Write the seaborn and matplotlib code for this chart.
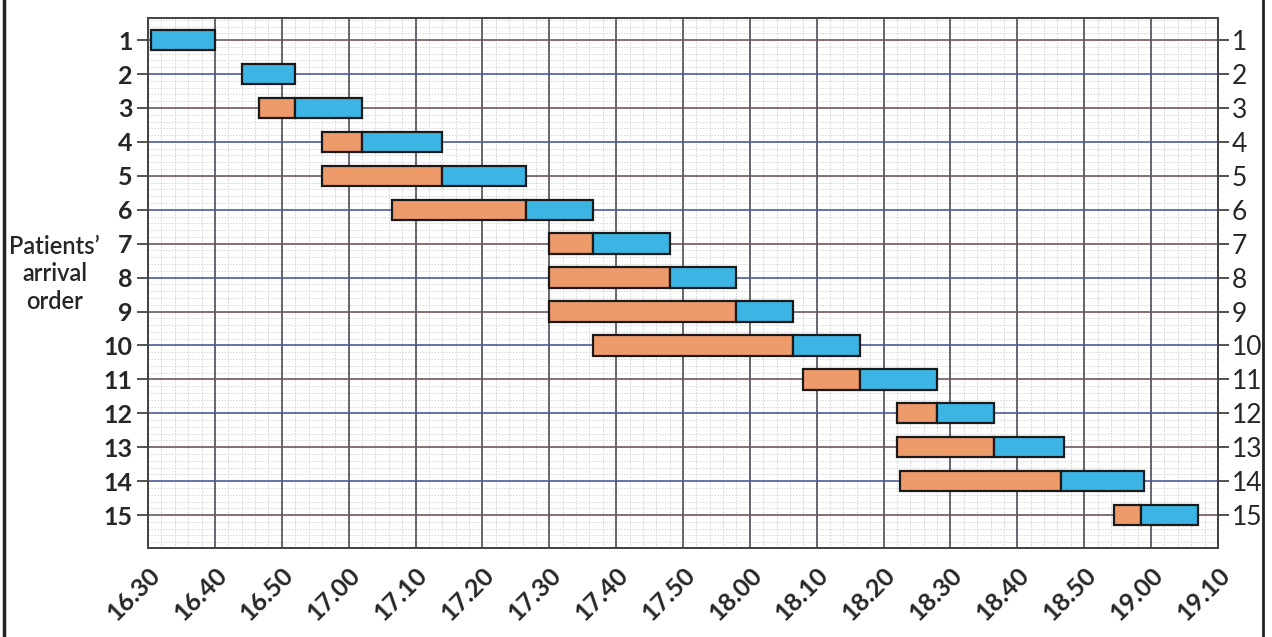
import numpy as np
import matplotlib
matplotlib.use("Agg")
import matplotlib.pyplot as plt
import seaborn as sns
from matplotlib.lines import Line2D

sns.set_style("white")
plt.rcParams["font.family"] = ["Lato", "DejaVu Sans"]

# ── Data (minutes after 16.30) ────────────────────────────────────────────────
patients      = list(range(1, 16))
wait_start    = [0.5, 14, 16.6, 26, 26, 36.5, 60, 60, 60, 66.5, 98, 112, 112, 112.5, 144.5]
service_start = [0.5, 14, 22, 32, 44, 56.5, 66.5, 78, 88, 96.5, 106.5, 118, 126.5, 136.5, 148.5]
service_end   = [10, 22, 32, 44, 56.5, 66.5, 78, 88, 96.5, 106.5, 118, 126.5, 137, 149, 157]
tick_minutes  = list(range(0, 161, 10))
tick_labels   = ["16.30", "16.40", "16.50", "17.00", "17.10", "17.20", "17.30",
                 "17.40", "17.50", "18.00", "18.10", "18.20", "18.30", "18.40",
                 "18.50", "19.00", "19.10"]

ORANGE = "#ee9b6c"
BLUE = "#3cb5e5"

fig = plt.figure(figsize=(12.72, 6.37), dpi=100)
ax = fig.add_axes([0.1164, 0.1397, 0.8411, 0.832])

# graph-paper minor grid
for xm in np.arange(0, 160.01, 2):
    ax.axvline(xm, color="#cfcfcf", lw=0.6, ls=(0, (2, 1.5)), zorder=0)
for ym in np.arange(0.4, 16.01, 0.2):
    ax.axhline(ym, color="#d6d6d6", lw=0.6, ls=(0, (2, 1.5)), zorder=0)
# major vertical lines
for xt in tick_minutes:
    ax.axvline(xt, color="#5a5a66", lw=1.3, zorder=1)
# row lines
for p in patients:
    col = "#4d5b9c" if p % 2 == 0 else "#6e5a60"
    ax.axhline(p, color=col, lw=1.2, zorder=1)

waits = np.array(service_start) - np.array(wait_start)
services = np.array(service_end) - np.array(service_start)
for p, ws, w, ss, s in zip(patients, wait_start, waits, service_start, services):
    if w > 0:
        ax.barh(p, w, left=ws, height=0.6, color=ORANGE,
                edgecolor="#1a1a1a", linewidth=1.6, zorder=3)
    ax.barh(p, s, left=ss, height=0.6, color=BLUE,
            edgecolor="#1a1a1a", linewidth=1.6, zorder=3)

ax.set_xlim(0, 160)
ax.set_ylim(15.97, 0.35)
ax.set_xticks(tick_minutes)
ax.set_xticklabels(tick_labels, rotation=45, ha="right",
                   rotation_mode="anchor", fontsize=18, fontweight="bold")
ax.set_yticks(patients)
ax.set_yticklabels([str(p) for p in patients], fontsize=18, fontweight="bold")
ax.tick_params(axis="both", length=8, width=1.2, color="#333333", direction="out")
ax.tick_params(axis="x", pad=3)
ax.tick_params(axis="y", pad=3)

ax2 = ax.twinx()
ax2.set_ylim(ax.get_ylim())
ax2.set_yticks(patients)
ax2.set_yticklabels([str(p) for p in patients], fontsize=19)
ax2.tick_params(axis="y", length=8, width=1.2, color="#333333", direction="out", pad=2)

for a in (ax, ax2):
    for sp in a.spines.values():
        sp.set_color("#444444")
        sp.set_linewidth(1.3)

fig.text(0.043, 0.57, "Patients’\narrival\norder", ha="center", va="center",
         fontsize=17, fontweight="semibold", linespacing=1.25)

# page edges
fig.add_artist(Line2D([0.003, 0.003], [0, 1], color="#222222", lw=2.5))
fig.add_artist(Line2D([0.993, 0.993], [0, 1], color="#222222", lw=2.0))

plt.savefig("out.png", dpi=100)
